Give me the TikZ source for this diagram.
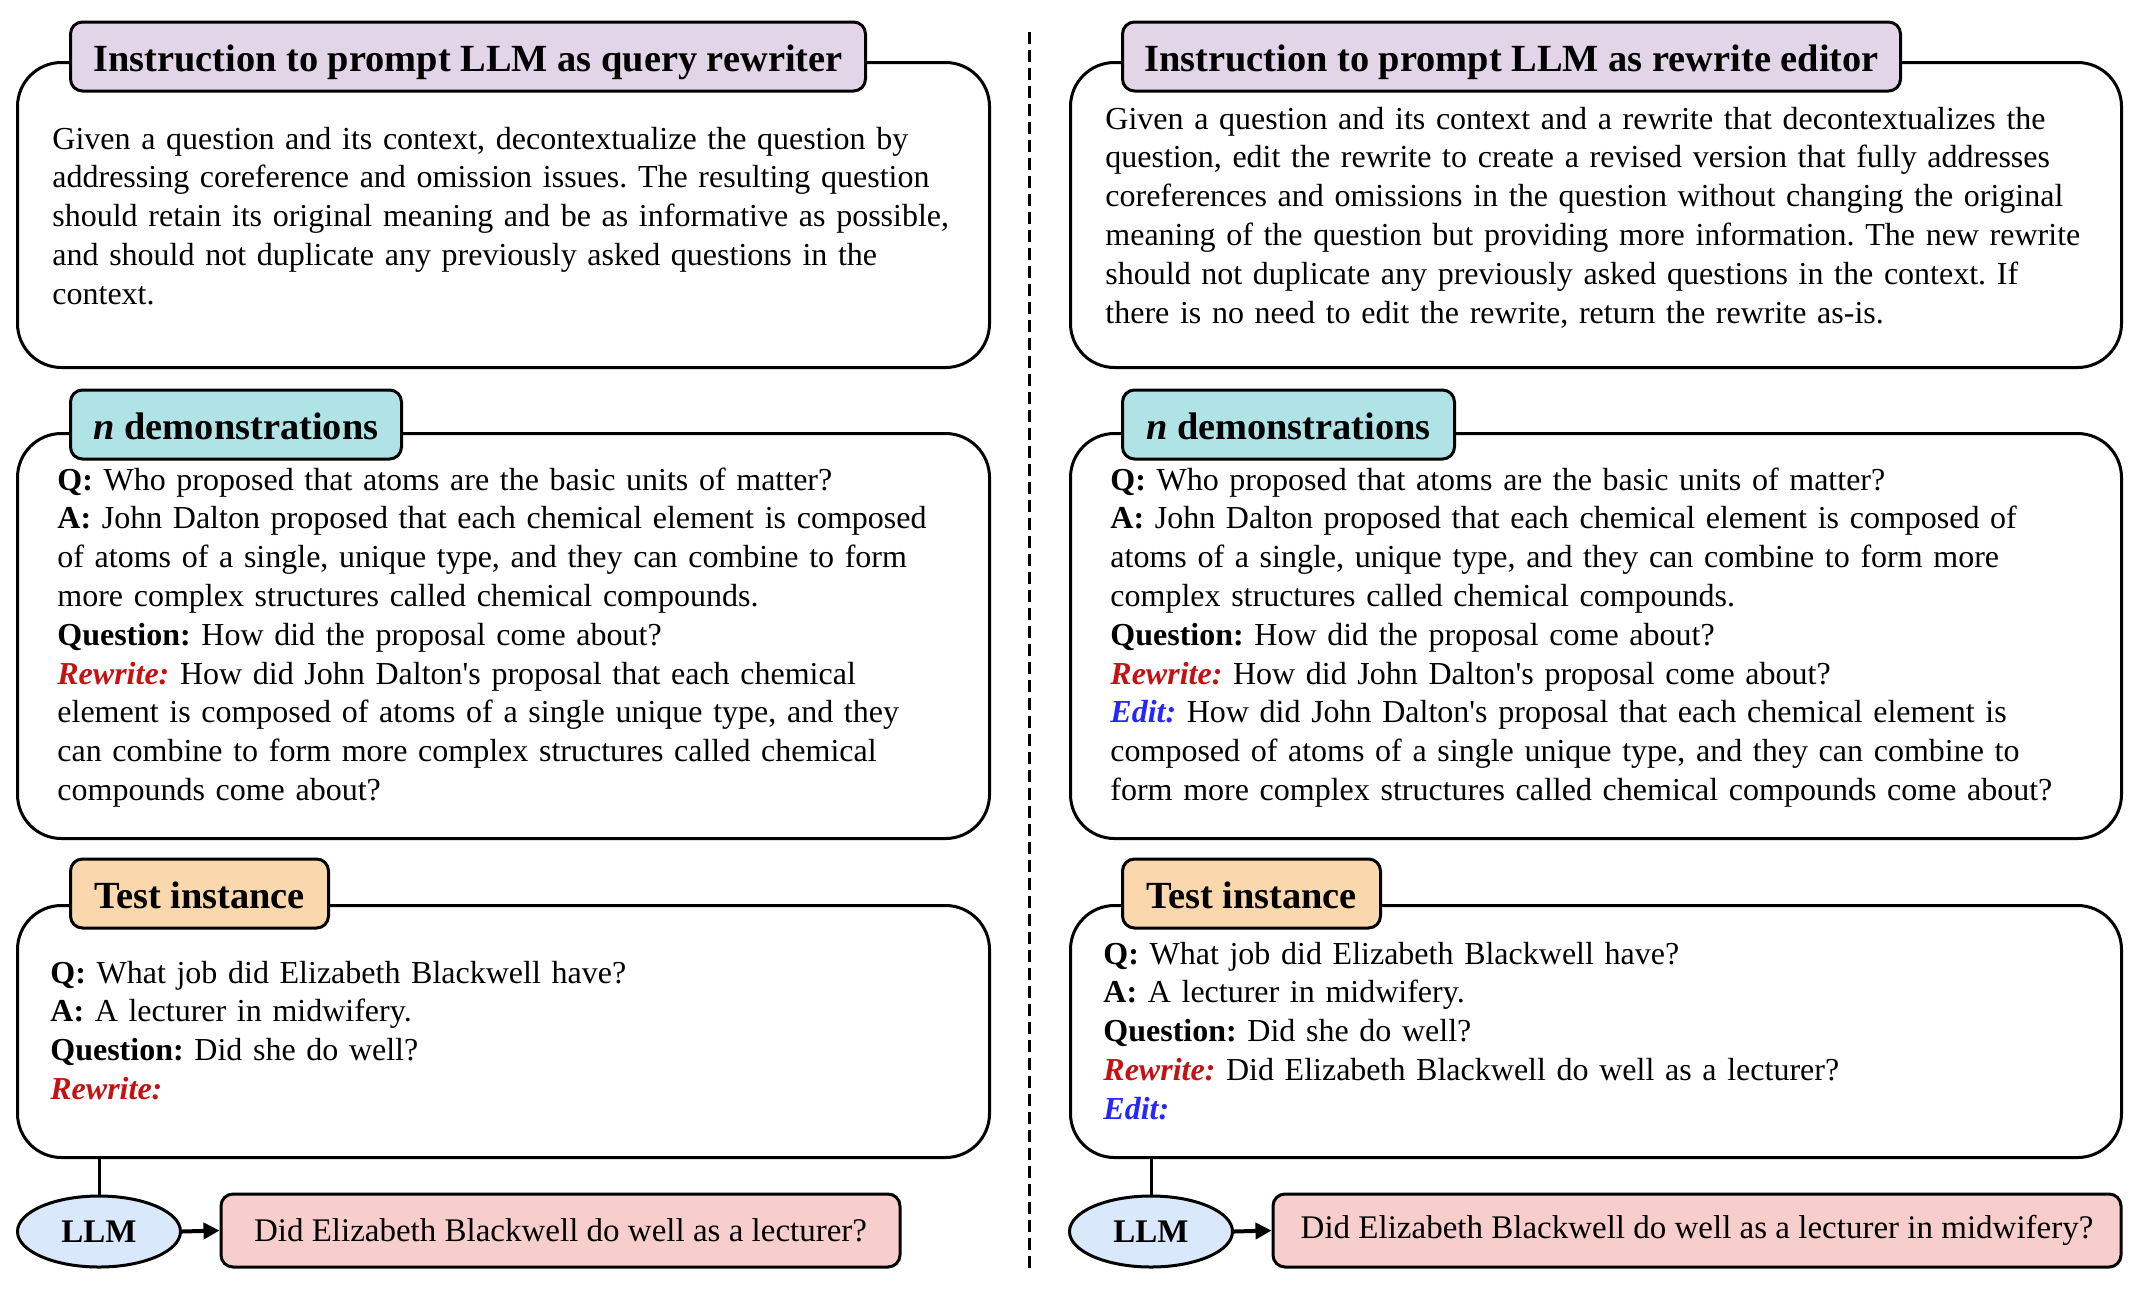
\documentclass[tikz,border=0pt]{standalone}
\usepackage{fontspec}
\setmainfont{Liberation Serif}
\usetikzlibrary{shapes.geometric,arrows.meta}
\definecolor{titleA}{HTML}{E1D5E7}
\definecolor{titleB}{HTML}{B0E3E6}
\definecolor{titleC}{HTML}{FAD7AC}
\definecolor{llmfill}{HTML}{DAE8FC}
\definecolor{outfill}{HTML}{F8CECC}
\definecolor{rwred}{HTML}{C41212}
\definecolor{edblue}{HTML}{2626FF}
\newcommand{\RW}{\textcolor{rwred}{\textbf{\textit{Rewrite:}}}}
\newcommand{\ED}{\textcolor{edblue}{\textbf{\textit{Edit:}}}}
\newcommand{\ap}{\textquotesingle}
\frenchspacing
\begin{document}
\begin{tikzpicture}[x=0.5pt,y=-0.5pt,
  bigbox/.style={draw, line width=1.5pt, rounded corners=22pt, rectangle, inner sep=0pt, anchor=north west},
  titlebox/.style={draw, line width=1.5pt, rounded corners=6pt, rectangle, inner sep=0pt, anchor=west, minimum height=34.5pt, text height=15pt, text depth=0pt, font=\bfseries\fontsize{19.2pt}{22pt}\selectfont},
  bodytext/.style={anchor=base west, inner sep=0pt, align=left, text width=600pt, font=\frenchspacing\fontsize{16pt}{19.4pt}\selectfont},
  llm/.style={ellipse, draw, line width=1.5pt, fill=llmfill, inner sep=0pt, minimum width=81.5pt, minimum height=35.5pt, font=\bfseries\fontsize{16.5pt}{19.5pt}\selectfont},
  outbox/.style={draw, line width=1.5pt, rounded corners=6pt, fill=outfill, inner sep=0pt, minimum height=36.5pt, font=\fontsize{16.5pt}{19.5pt}\selectfont},
  conn/.style={line width=1.5pt},
  arr/.style={line width=2pt, -{Triangle[length=8pt,width=8pt]}},
  sepline/.style={line width=1.5pt, dash pattern=on 6pt off 3pt}
]
\useasboundingbox (0,0) rectangle (2136,1292);

% ---------- left panel ----------
\node[bigbox, minimum width=486pt, minimum height=152.5pt] (L1) at (16,61) {};
\node[bigbox, minimum width=486pt, minimum height=202.5pt] (L2) at (16,432) {};
\node[bigbox, minimum width=486pt, minimum height=126pt] (L3) at (16,904) {};

\node[titlebox, fill=titleA, minimum width=397.5pt] (LT1) at (69,56.5) {Instruction to prompt LLM as query rewriter};
\node[titlebox, fill=titleB, minimum width=165.5pt] (LT2) at (69,424.5) {\textit{n} demonstrations};
\node[titlebox, fill=titleC, minimum width=129pt] (LT3) at (69,893.5) {Test instance};

\node[bodytext] (L1t) at (52,149) {Given a question and its context, decontextualize the question by\\
addressing coreference and omission issues. The resulting question\\
should retain its original meaning and be as informative as possible,\\
and should not duplicate any previously asked questions in the\\
context.};

\node[bodytext] (L2t) at (57,490) {\textbf{Q:} Who proposed that atoms are the basic units of matter?\\
\textbf{A:} John Dalton proposed that each chemical element is composed\\
of atoms of a single, unique type, and they can combine to form\\
more complex structures called chemical compounds.\\
\textbf{Question:} How did the proposal come about?\\
\RW{} How did John Dalton\ap s proposal that each chemical\\
element is composed of atoms of a single unique type, and they\\
can combine to form more complex structures called chemical\\
compounds come about?};

\node[bodytext] (L3t) at (50,983) {\textbf{Q:} What job did Elizabeth Blackwell have?\\
\textbf{A:} A lecturer in midwifery.\\
\textbf{Question:} Did she do well?\\
\RW};

\node[llm] (LLMl) at (99,1231.5) {LLM};
\node[outbox, minimum width=339.5pt] (OUTl) at (560.5,1230.5) {Did Elizabeth Blackwell do well as a lecturer?};
\draw[conn] (L3.south -| LLMl.north) -- (LLMl.north);
\draw[arr] (LLMl.east) -- (OUTl.west);

% ---------- separator ----------
\coordinate (sepTop) at (1029,32);
\coordinate (sepBot) at (1029,1268);
\draw[sepline] (sepTop) -- (sepBot);

% ---------- right panel ----------
\node[bigbox, minimum width=525.5pt, minimum height=152.5pt] (R1) at (1069,61) {};
\node[bigbox, minimum width=525.5pt, minimum height=202.5pt] (R2) at (1069,432) {};
\node[bigbox, minimum width=525.5pt, minimum height=126pt] (R3) at (1069,904) {};

\node[titlebox, fill=titleA, minimum width=389pt] (RT1) at (1121,56.5) {Instruction to prompt LLM as rewrite editor};
\node[titlebox, fill=titleB, minimum width=166pt] (RT2) at (1121,424.5) {\textit{n} demonstrations};
\node[titlebox, fill=titleC, minimum width=129pt] (RT3) at (1121,893.5) {Test instance};

\node[bodytext] (R1t) at (1105,129) {Given a question and its context and a rewrite that decontextualizes the\\
question, edit the rewrite to create a revised version that fully addresses\\
coreferences and omissions in the question without changing the original\\
meaning of the question but providing more information. The new rewrite\\
should not duplicate any previously asked questions in the context. If\\
there is no need to edit the rewrite, return the rewrite as-is.};

\node[bodytext] (R2t) at (1110,490) {\textbf{Q:} Who proposed that atoms are the basic units of matter?\\
\textbf{A:} John Dalton proposed that each chemical element is composed of\\
atoms of a single, unique type, and they can combine to form more\\
complex structures called chemical compounds.\\
\textbf{Question:} How did the proposal come about?\\
\RW{} How did John Dalton\ap s proposal come about?\\
\ED{} How did John Dalton\ap s proposal that each chemical element is\\
composed of atoms of a single unique type, and they can combine to\\
form more complex structures called chemical compounds come about?};

\node[bodytext] (R3t) at (1103,964) {\textbf{Q:} What job did Elizabeth Blackwell have?\\
\textbf{A:} A lecturer in midwifery.\\
\textbf{Question:} Did she do well?\\
\RW{} Did Elizabeth Blackwell do well as a lecturer?\\
\ED};

\node[llm] (LLMr) at (1151,1231.5) {LLM};
\node[outbox, minimum width=424pt] (OUTr) at (1697,1230.5) {Did Elizabeth Blackwell do well as a lecturer in midwifery?};
\draw[conn] (R3.south -| LLMr.north) -- (LLMr.north);
\draw[arr] (LLMr.east) -- (OUTr.west);
\end{tikzpicture}
\end{document}
